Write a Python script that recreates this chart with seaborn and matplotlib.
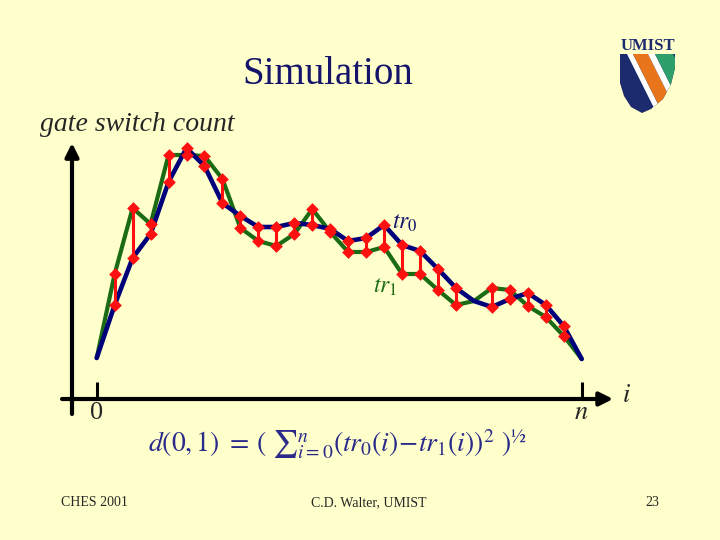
import pandas as pd
import seaborn as sns
import matplotlib.pyplot as plt
from matplotlib.patches import Polygon

# indice de muestra y cuentas de conmutaciones (unidades arbitrarias)
indice = list(range(28))
tr0 = [41, 94, 141, 165, 217, 251, 233, 196, 183, 172, 172, 176, 174, 170,
       158, 161, 174, 154, 148, 130, 111, 98, 92, 100, 106, 94, 73, 40]
tr1 = [41, 125, 191, 175, 244, 244, 243, 220, 171, 158, 153, 165, 190, 167,
       147, 147, 152, 125, 125, 109, 94, 98, 111, 109, 93, 82, 63, 40]
ticks_x = [0, 27]
etiquetas_x = ['0', '$n$']

fondo = '#ffffcc'
azul = '#00007a'
verde = '#1a6b14'
rojo = '#ff1010'
marino = '#14146b'

sns.set_theme(style="white", rc={"axes.facecolor": fondo,
                                 "figure.facecolor": fondo})
plt.rcParams['font.family'] = ['Liberation Serif', 'DejaVu Serif']
plt.rcParams['mathtext.fontset'] = 'stix'

fig = plt.figure(figsize=(7.2, 5.4), dpi=100)
ax = fig.add_axes([60 / 720, 1 - 420 / 540, 580 / 720, 290 / 540])
ax.set_xlim(-2.043, 30.245)
ax.set_ylim(-21, 269)

df = pd.DataFrame({'i': indice, 'tr0': tr0, 'tr1': tr1})

sns.lineplot(data=df, x='i', y='tr1', color=verde, linewidth=3.0, ax=ax, zorder=2)
sns.lineplot(data=df, x='i', y='tr0', color=azul, linewidth=3.3, ax=ax, zorder=3)

dif = df[df['tr0'] != df['tr1']]
ax.vlines(dif['i'], dif['tr0'], dif['tr1'], color=rojo, linewidth=2.2, zorder=4)
puntos = pd.concat([
    dif[['i', 'tr0']].rename(columns={'tr0': 'v'}),
    dif[['i', 'tr1']].rename(columns={'tr1': 'v'}),
])
sns.scatterplot(data=puntos, x='i', y='v', marker='D', s=42, color=rojo,
                linewidth=0, ax=ax, zorder=5)

# ejes con flechas
x_eje = -1.375
flecha = dict(arrowstyle='-|>', lw=3, color='black', mutation_scale=20,
              shrinkA=0, shrinkB=0)
ax.annotate('', xy=(x_eje, 256), xytext=(x_eje, -15), arrowprops=flecha)
ax.annotate('', xy=(28.75, 0), xytext=(-1.93, 0), arrowprops=flecha)

for s in ax.spines.values():
    s.set_visible(False)
ax.spines['bottom'].set_position(('data', 0))
ax.set_xticks(ticks_x, etiquetas_x)
ax.set_yticks([])
ax.tick_params(axis='x', bottom=True, direction='in', length=12, width=2.2,
               color='black', labelsize=19, pad=2)
ax.set_xlabel('')
ax.set_ylabel('')
ax.text(29.5, 3, '$i$', fontsize=19, ha='center', va='center')

ax.text(16.42, 170.7, r'$tr_0$', fontsize=17, color=marino,
        ha='left', va='baseline')
ax.text(15.38, 106, r'$tr_1$', fontsize=17, color=verde,
        ha='left', va='baseline')

# textos de la diapositiva
fig.text(327.5 / 720, 1 - 84.3 / 540, 'Simulation', fontsize=28, color=marino,
         ha='center', va='baseline')
fig.text(40 / 720, 1 - 131 / 540, 'gate switch count', fontsize=20,
         style='italic', ha='left', va='baseline')
fig.text(148 / 720, 1 - 452 / 540,
         r'$d(0,1)\ =\, (\ {\sum}_{i=0}^{n}(tr_0(i)\!-\!tr_1(i))^2\ )^{½}$',
         fontsize=20, color='#2a2a8a', ha='left', va='baseline')
fig.text(94 / 720, 1 - 503 / 540, 'CHES 2001', fontsize=10, ha='center', va='center')
fig.text(369 / 720, 1 - 503 / 540, 'C.D. Walter, UMIST', fontsize=10,
         ha='center', va='center')
fig.text(652 / 720, 1 - 503 / 540, '23', fontsize=10, ha='center', va='center')

# logo
fig.text(648 / 720, 1 - 46 / 540, 'UMIST', fontsize=12, fontweight='bold',
         color='#1c2a6e', ha='center', va='center')
lg = fig.add_axes([620 / 720, 1 - 113 / 540, 55 / 720, 59 / 540])
lg.set_xlim(0, 55)
lg.set_ylim(59, 0)
lg.axis('off')
escudo = Polygon([(0, 0), (55, 0), (55, 14), (51, 30), (43, 45), (31, 55),
                  (22, 59), (11, 53), (4, 42), (0, 29)],
                 closed=True, facecolor='#1c2a6e', edgecolor='none')
lg.add_patch(escudo)
for x0, x1, c in [(7, 13, 'white'), (13, 28, '#e8751a'),
                  (28, 35, 'white'), (35, 53, '#2e9e6a')]:
    banda = Polygon([(x0, 0), (x1, 0), (x1 + 35, 70), (x0 + 35, 70)],
                    closed=True, facecolor=c, edgecolor='none')
    lg.add_patch(banda)
    banda.set_clip_path(escudo)

fig.savefig('out.png', dpi=100, facecolor=fondo)
